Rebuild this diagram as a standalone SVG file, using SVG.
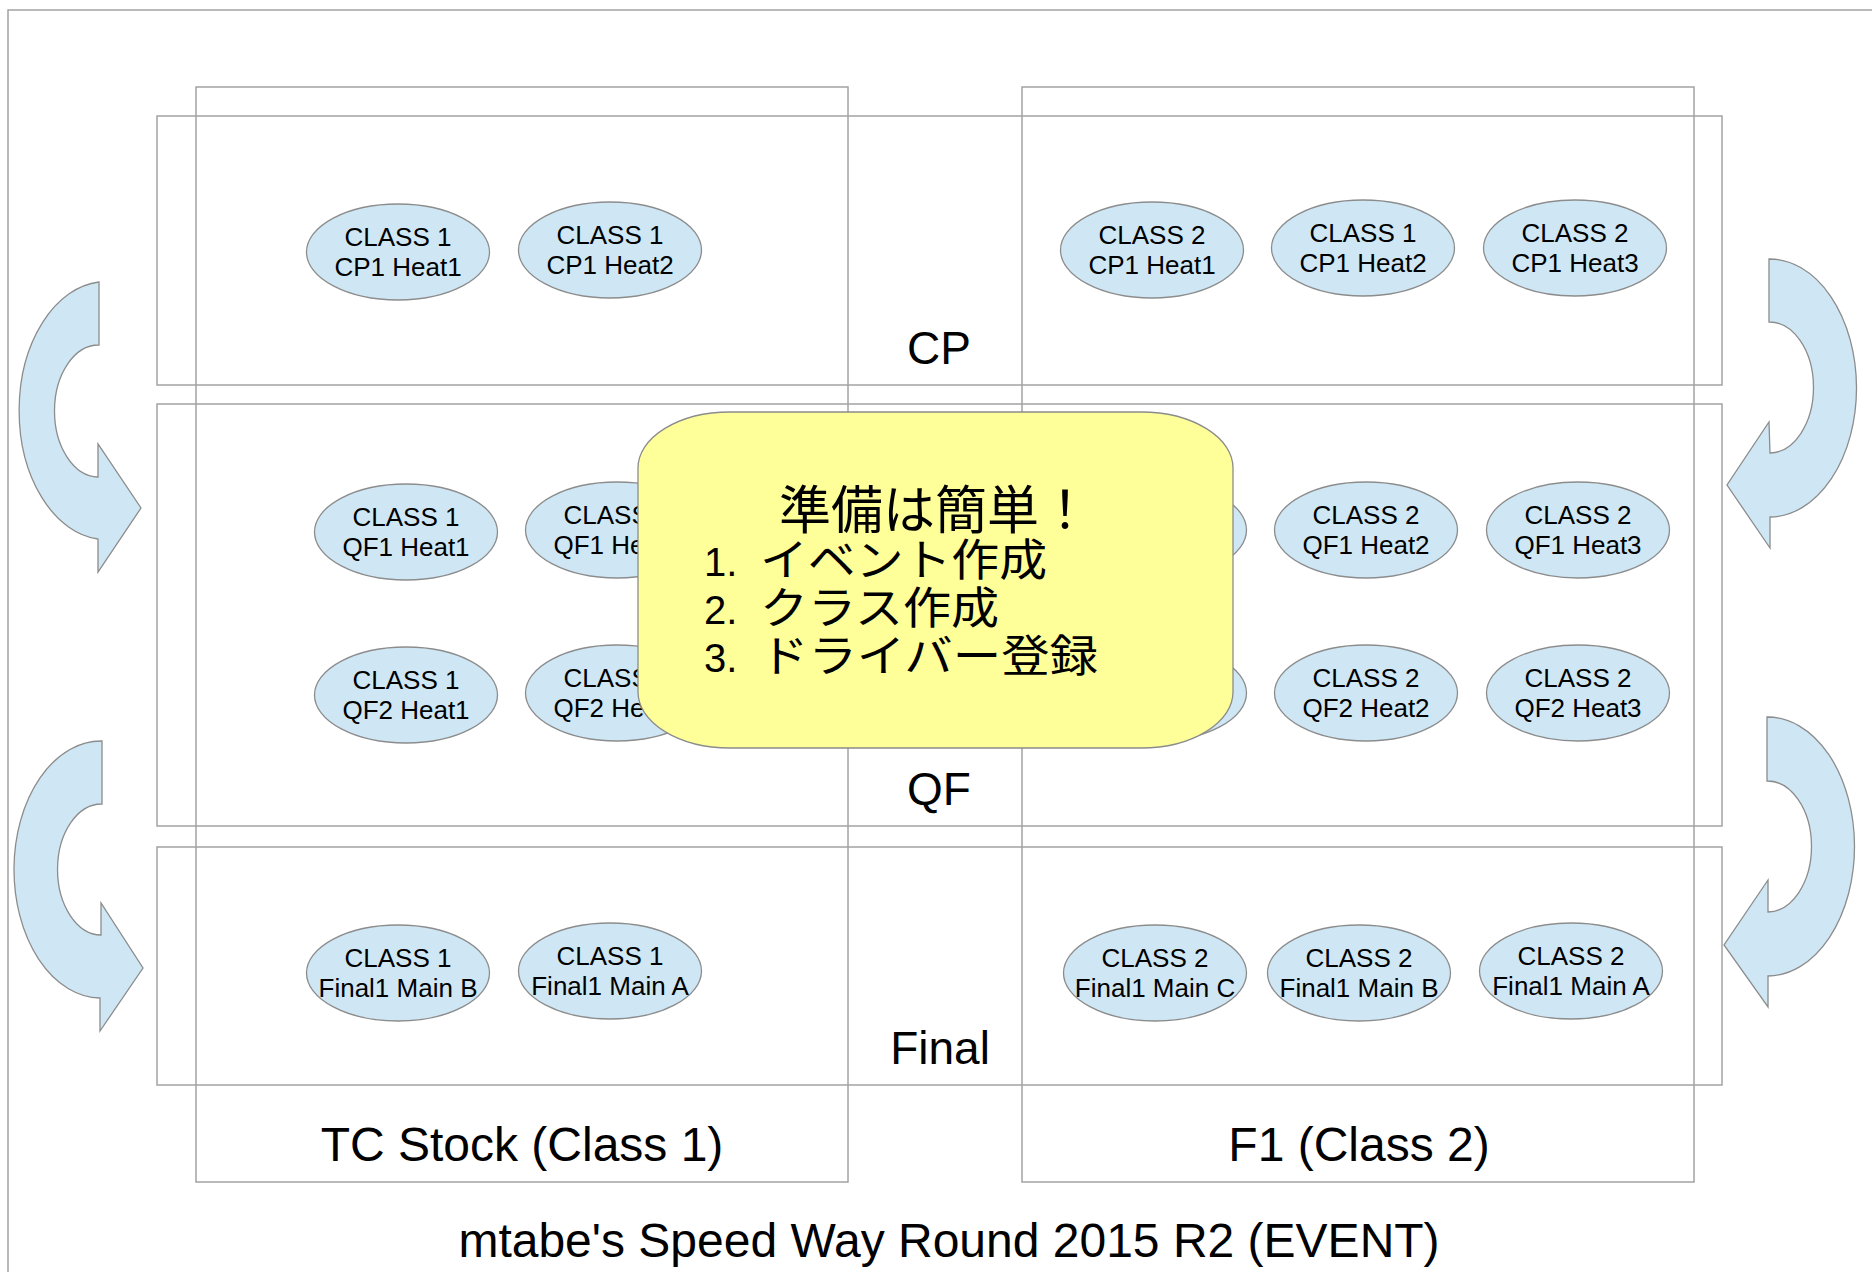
<svg xmlns="http://www.w3.org/2000/svg" width="1872" height="1272" viewBox="0 0 1872 1272">
<defs>
<style>
.frame{fill:none;stroke:#a3a3a3;stroke-width:1.5}
.node ellipse{fill:#cfe7f5;stroke:#8c8c8c;stroke-width:1.3}
.nt{font-family:"Liberation Sans",Arial,sans-serif;font-size:26px;text-anchor:middle;fill:#000}
.lbl{font-family:"Liberation Sans",Arial,sans-serif;font-size:46px;text-anchor:middle;fill:#000}
.big{font-family:"Liberation Sans",Arial,sans-serif;font-size:48px;text-anchor:middle;fill:#000}
.arrow{fill:#cfe7f5;stroke:#8c8c8c;stroke-width:1.3}
.jp{font-family:"Noto Sans CJK JP","Noto Sans CJK SC",sans-serif;fill:#000}
.num{font-family:"Liberation Sans",Arial,sans-serif;font-size:40px}
</style>
</defs>
<rect width="1872" height="1272" fill="#ffffff"/>
<g id="frames">
<path class="frame" d="M8,1272 V10 H1872"/>
<rect class="frame" x="196" y="87" width="652" height="1095"/>
<rect class="frame" x="1022" y="87" width="672" height="1095"/>
<rect class="frame" x="157" y="116" width="1565" height="269"/>
<rect class="frame" x="157" y="404" width="1565" height="422"/>
<rect class="frame" x="157" y="847" width="1565" height="238"/>
</g>
<g id="labels">
<text class="lbl" x="939" y="364">CP</text>
<text class="lbl" x="939" y="805">QF</text>
<text class="lbl" x="940" y="1064">Final</text>
<text class="big" x="522" y="1161">TC Stock (Class 1)</text>
<text class="big" x="1359" y="1161">F1 (Class 2)</text>
<text class="big" x="949" y="1257">mtabe's Speed Way Round 2015 R2 (EVENT)</text>
</g>
<g id="connectors">
<path class="arrow" d="M99,282 A87 129 0 0 0 98,539 L98,572 L141,508 L98,444 L98,477 A44 66 0 0 1 99,345 Z"/>
<path class="arrow" d="M102,741 A87 128.5 0 0 0 100,998 L100,1031 L143,968 L101,903 L101,935 A44 65.5 0 0 1 102,804 Z"/>
<path class="arrow" d="M1769,259 A87 129 0 0 1 1770,517 L1770,548 L1727,485 L1769,422 L1770,453 A44 65.5 0 0 0 1769,322 Z"/>
<path class="arrow" d="M1767,717 A87 129.5 0 0 1 1768,976 L1768,1007 L1724,945 L1768,880 L1768,912 A44 65.5 0 0 0 1767,781 Z"/>
</g>
<g id="cp-c1-h1" class="node"><ellipse cx="398" cy="252" rx="91.5" ry="48"/><text class="nt"><tspan x="398" y="245.5">CLASS 1</tspan><tspan x="398" y="276">CP1 Heat1</tspan></text></g>
<g id="cp-c1-h2" class="node"><ellipse cx="610" cy="250" rx="91.5" ry="48"/><text class="nt"><tspan x="610" y="243.5">CLASS 1</tspan><tspan x="610" y="274">CP1 Heat2</tspan></text></g>
<g id="cp-c2-h1" class="node"><ellipse cx="1152" cy="250" rx="91.5" ry="48"/><text class="nt"><tspan x="1152" y="243.5">CLASS 2</tspan><tspan x="1152" y="274">CP1 Heat1</tspan></text></g>
<g id="cp-c1-h2b" class="node"><ellipse cx="1363" cy="248" rx="91.5" ry="48"/><text class="nt"><tspan x="1363" y="241.5">CLASS 1</tspan><tspan x="1363" y="272">CP1 Heat2</tspan></text></g>
<g id="cp-c2-h3" class="node"><ellipse cx="1575" cy="248" rx="91.5" ry="48"/><text class="nt"><tspan x="1575" y="241.5">CLASS 2</tspan><tspan x="1575" y="272">CP1 Heat3</tspan></text></g>
<g id="qf1-c1-h1" class="node"><ellipse cx="406" cy="532" rx="91.5" ry="48"/><text class="nt"><tspan x="406" y="525.5">CLASS 1</tspan><tspan x="406" y="556">QF1 Heat1</tspan></text></g>
<g id="qf1-c1-h2" class="node"><ellipse cx="617" cy="530" rx="91.5" ry="48"/><text class="nt"><tspan x="617" y="523.5">CLASS 1</tspan><tspan x="617" y="554">QF1 Heat2</tspan></text></g>
<g id="qf2-c1-h1" class="node"><ellipse cx="406" cy="695" rx="91.5" ry="48"/><text class="nt"><tspan x="406" y="688.5">CLASS 1</tspan><tspan x="406" y="719">QF2 Heat1</tspan></text></g>
<g id="qf2-c1-h2" class="node"><ellipse cx="617" cy="693" rx="91.5" ry="48"/><text class="nt"><tspan x="617" y="686.5">CLASS 1</tspan><tspan x="617" y="717">QF2 Heat2</tspan></text></g>
<g id="qf1-c2-h1" class="node"><ellipse cx="1155" cy="530" rx="91.5" ry="48"/></g>
<g id="qf1-c2-h2" class="node"><ellipse cx="1366" cy="530" rx="91.5" ry="48"/><text class="nt"><tspan x="1366" y="523.5">CLASS 2</tspan><tspan x="1366" y="554">QF1 Heat2</tspan></text></g>
<g id="qf1-c2-h3" class="node"><ellipse cx="1578" cy="530" rx="91.5" ry="48"/><text class="nt"><tspan x="1578" y="523.5">CLASS 2</tspan><tspan x="1578" y="554">QF1 Heat3</tspan></text></g>
<g id="qf2-c2-h1" class="node"><ellipse cx="1155" cy="693" rx="91.5" ry="48"/></g>
<g id="qf2-c2-h2" class="node"><ellipse cx="1366" cy="693" rx="91.5" ry="48"/><text class="nt"><tspan x="1366" y="686.5">CLASS 2</tspan><tspan x="1366" y="717">QF2 Heat2</tspan></text></g>
<g id="qf2-c2-h3" class="node"><ellipse cx="1578" cy="693" rx="91.5" ry="48"/><text class="nt"><tspan x="1578" y="686.5">CLASS 2</tspan><tspan x="1578" y="717">QF2 Heat3</tspan></text></g>
<g id="fin-c1-b" class="node"><ellipse cx="398" cy="973" rx="91.5" ry="48"/><text class="nt"><tspan x="398" y="966.5">CLASS 1</tspan><tspan x="398" y="997">Final1 Main B</tspan></text></g>
<g id="fin-c1-a" class="node"><ellipse cx="610" cy="971" rx="91.5" ry="48"/><text class="nt"><tspan x="610" y="964.5">CLASS 1</tspan><tspan x="610" y="995">Final1 Main A</tspan></text></g>
<g id="fin-c2-c" class="node"><ellipse cx="1155" cy="973" rx="91.5" ry="48"/><text class="nt"><tspan x="1155" y="966.5">CLASS 2</tspan><tspan x="1155" y="997">Final1 Main C</tspan></text></g>
<g id="fin-c2-b" class="node"><ellipse cx="1359" cy="973" rx="91.5" ry="48"/><text class="nt"><tspan x="1359" y="966.5">CLASS 2</tspan><tspan x="1359" y="997">Final1 Main B</tspan></text></g>
<g id="fin-c2-a" class="node"><ellipse cx="1571" cy="971" rx="91.5" ry="48"/><text class="nt"><tspan x="1571" y="964.5">CLASS 2</tspan><tspan x="1571" y="995">Final1 Main A</tspan></text></g>
<g id="note">
<rect x="638" y="412" width="595" height="336" rx="92" ry="56" fill="#ffff99" stroke="#8c8c8c" stroke-width="1.3"/>
<text class="jp" font-size="44"><tspan x="935" y="529" font-size="52" text-anchor="middle">準備は簡単！</tspan><tspan class="num" x="704" y="576">1.</tspan><tspan x="760" y="576" textLength="287" lengthAdjust="spacingAndGlyphs">イベント作成</tspan><tspan class="num" x="704" y="624">2.</tspan><tspan x="760" y="624" textLength="239" lengthAdjust="spacingAndGlyphs">クラス作成</tspan><tspan class="num" x="704" y="672">3.</tspan><tspan x="760" y="672" textLength="338" lengthAdjust="spacingAndGlyphs">ドライバー登録</tspan></text>
</g>
</svg>
